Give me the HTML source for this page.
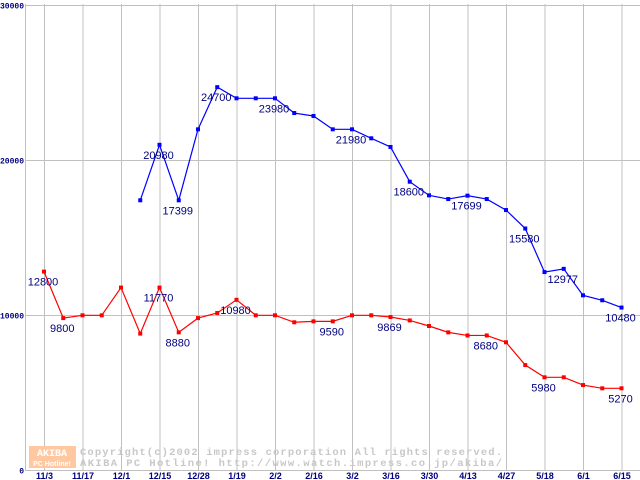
<!DOCTYPE html>
<html><head><meta charset="utf-8"><style>
html,body{margin:0;padding:0;background:#fff;width:640px;height:480px;overflow:hidden}
svg{display:block}
</style></head><body>
<svg id="chart" width="640" height="480" xmlns="http://www.w3.org/2000/svg">
<g id="grid"></g>
<g id="wm">
<rect x="29" y="446" width="47" height="22" fill="#ffc8a0"/>
<text x="52" y="456" font-family="Liberation Mono, monospace" font-size="10" font-weight="bold" fill="#fff" text-anchor="middle">AKIBA</text>
<text x="52" y="466" font-family="Liberation Sans, sans-serif" font-size="7" font-weight="bold" fill="#fff" text-anchor="middle">PC Hotline!</text>
<text x="80" y="455" font-family="Liberation Mono, monospace" font-size="10.5" font-weight="bold" fill="#c8c8c8" textLength="422">Copyright(c)2002 impress corporation All rights reserved.</text>
<text x="80" y="466" font-family="Liberation Mono, monospace" font-size="10.5" font-weight="bold" fill="#c8c8c8" textLength="422">AKIBA PC Hotline!  http://www.watch.impress.co.jp/akiba/</text>
</g>
<g id="series"></g>
</svg>
<script>
const xLabels=["11/3","11/17","12/1","12/15","12/28","1/19","2/2","2/16","3/2","3/16","3/30","4/13","4/27","5/18","6/1","6/15"];
const yTicks=[0,10000,20000,30000];
const redValues=[12800,9800,9980,9980,11770,8800,11770,8880,9800,10130,10980,9980,9980,9530,9590,9590,9980,9980,9869,9650,9290,8880,8680,8680,8240,6770,5980,5980,5480,5270,5270];
const redLabels={0:"12800",1:"9800",6:"11770",7:"8880",10:"10980",15:"9590",18:"9869",23:"8680",26:"5980",30:"5270"};
const blueStart=5;
const blueValues=[17400,20980,17399,21980,24700,23980,23980,23980,23030,22840,21980,21980,21400,20840,18600,17720,17480,17699,17480,16770,15580,12770,12977,11270,10950,10480];
const blueLabels={6:"20980",7:"17399",9:"24700",12:"23980",16:"21980",19:"18600",22:"17699",25:"15580",27:"12977",30:"10480"};

const NS="http://www.w3.org/2000/svg";
const X=i=>44+19.25*i;
const Y=v=>470-v*0.0155;
function mk(tag,attrs,parent,txt){const e=document.createElementNS(NS,tag);for(const k in attrs)e.setAttribute(k,attrs[k]);if(txt!==undefined)e.textContent=txt;parent.appendChild(e);return e;}
const grid=document.getElementById('grid'),ser=document.getElementById('series');
xLabels.forEach((l,k)=>{const x=X(k*2)+0.5;
 const g=mk('line',{x1:x,x2:x,y1:4,y2:470,stroke:'#c0c0c0','stroke-width':1},grid);
 
 
 const t=mk('text',{x:x,y:479,'font-family':'Liberation Sans, sans-serif','font-size':9,'font-weight':'bold',fill:'#000080','text-anchor':'middle'},grid,l);
 
 
});
yTicks.forEach(v=>{const y=Math.round(Y(v))+0.5;
 if(v>0){const g=mk('line',{x1:25,x2:640,y1:y,y2:y,stroke:'#c0c0c0','stroke-width':1},grid);
 
 }
 const t=mk('text',{x:24,y:y+3,'font-family':'Liberation Mono, monospace','font-size':8,'font-weight':'bold',fill:'#000080','text-anchor':'end'},grid,String(v));
 
 
});
const ax=mk('path',{d:'M25.5 4 V470.5 H640',stroke:'#c0c0c0','stroke-width':1,fill:'none'},grid);


function drawSeries(vals,start,color,labels,name){
 const pts=vals.map((v,j)=>[X(start+j),Y(v)]);
 const p=mk('polyline',{points:pts.map(q=>q[0]+','+q[1]).join(' '),fill:'none',stroke:color,'stroke-width':1.2},ser);
 
 
 pts.forEach((q,j)=>{const r=mk('rect',{x:q[0]-2,y:q[1]-2,width:4,height:4,fill:color},ser);
  
  
  const lab=labels[start+j];
  if(lab){const t=mk('text',{x:q[0]-1,y:q[1]+14,'font-family':'Liberation Sans, sans-serif','font-size':11,fill:'#000080','text-anchor':'middle'},ser,lab);
   
   }
 });
}
drawSeries(redValues,0,'#ff0000',redLabels,'red-series');
drawSeries(blueValues,blueStart,'#0000ff',blueLabels,'blue-series');
</script>
</body></html>
